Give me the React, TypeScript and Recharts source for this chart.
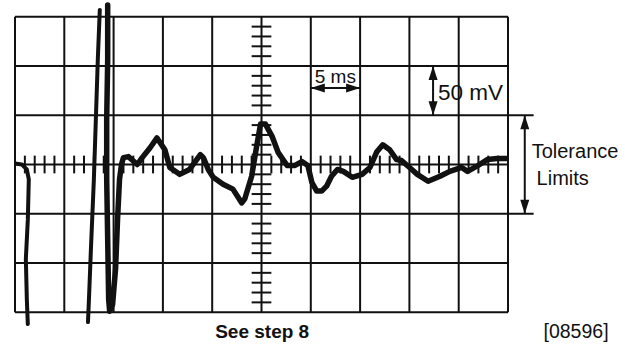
import { LineChart, Line, XAxis, YAxis, ReferenceLine, ReferenceDot } from "recharts";

// scope trace, t in ms (5 ms/div), v in mV (50 mV/div)
const sweepDrop = [
  { t: 0, v: 1 },
  { t: 0.7, v: 0 },
  { t: 1.2, v: -5 },
  { t: 1.4, v: -15 },
  { t: 1.3, v: -56 },
  { t: 1.1, v: -96 },
  { t: 1.2, v: -137 },
  { t: 1.3, v: -162 },
];

const sweepRise = [
  { t: 7.4, v: -160 },
  { t: 7.5, v: -137 },
  { t: 7.7, v: -86 },
  { t: 8.0, v: -15 },
  { t: 8.2, v: 46 },
  { t: 8.4, v: 107 },
  { t: 8.6, v: 157 },
];

const sweepMain = [
  { t: 9.4, v: 162 },
  { t: 9.4, v: 106 },
  { t: 9.3, v: 46 },
  { t: 9.3, v: -15 },
  { t: 9.4, v: -76 },
  { t: 9.5, v: -137 },
  { t: 9.6, v: -149 },
  { t: 9.9, v: -142 },
  { t: 10.2, v: -106 },
  { t: 10.4, v: -56 },
  { t: 10.6, v: -15 },
  { t: 10.8, v: 0 },
  { t: 11.0, v: 7 },
  { t: 11.5, v: 8 },
  { t: 12.4, v: 0 },
  { t: 12.9, v: 7 },
  { t: 13.7, v: 17 },
  { t: 14.4, v: 27 },
  { t: 15.2, v: 15 },
  { t: 15.7, v: -3 },
  { t: 16.7, v: -10 },
  { t: 17.7, v: -5 },
  { t: 18.8, v: 10 },
  { t: 19.1, v: 7 },
  { t: 19.6, v: -5 },
  { t: 20.1, v: -13 },
  { t: 21.1, v: -20 },
  { t: 22.1, v: -25 },
  { t: 23.0, v: -39 },
  { t: 23.3, v: -35 },
  { t: 24.0, v: -12 },
  { t: 24.5, v: 18 },
  { t: 24.9, v: 41 },
  { t: 25.4, v: 41 },
  { t: 26.1, v: 28 },
  { t: 26.7, v: 12 },
  { t: 27.6, v: -1 },
  { t: 28.4, v: -1 },
  { t: 29.1, v: 3 },
  { t: 29.7, v: -1 },
  { t: 30.1, v: -18 },
  { t: 30.6, v: -27 },
  { t: 31.1, v: -27 },
  { t: 31.6, v: -22 },
  { t: 32.1, v: -12 },
  { t: 32.7, v: -5 },
  { t: 33.3, v: -7 },
  { t: 34.2, v: -13 },
  { t: 35.2, v: -10 },
  { t: 36.0, v: -3 },
  { t: 36.7, v: 13 },
  { t: 37.3, v: 20 },
  { t: 38.0, v: 15 },
  { t: 38.7, v: 5 },
  { t: 39.2, v: 4 },
  { t: 39.9, v: -2 },
  { t: 40.8, v: -10 },
  { t: 41.9, v: -17 },
  { t: 43.1, v: -12 },
  { t: 44.1, v: -7 },
  { t: 45.3, v: -3 },
  { t: 45.9, v: -7 },
  { t: 46.8, v: -2 },
  { t: 47.9, v: 5 },
  { t: 48.9, v: 6 },
  { t: 50, v: 6 },
];

const majorTimes = [0, 5, 10, 15, 20, 25, 30, 35, 40, 45, 50];
const majorLevels = [-150, -100, -50, 0, 50, 100, 150];
const minorTimes = Array.from({ length: 51 }, (_, i) => i).filter((t) => t % 5 !== 0);
const minorLevels = Array.from({ length: 31 }, (_, i) => -150 + i * 10).filter((v) => v % 50 !== 0);

const toleranceLevels = [-50, 50];

const INK = "#111";
const FONT = "'Liberation Sans', Arial, sans-serif";

type Dir = "up" | "down" | "left" | "right";

const head = (dir: Dir) => (p: any) => {
  const { cx, cy } = p;
  const L = 14;
  const W = 4.5;
  let pts = "";
  if (dir === "up") pts = `${cx},${cy} ${cx - W},${cy + L} ${cx + W},${cy + L}`;
  if (dir === "down") pts = `${cx},${cy} ${cx - W},${cy - L} ${cx + W},${cy - L}`;
  if (dir === "left") pts = `${cx},${cy} ${cx + L},${cy - W} ${cx + L},${cy + W}`;
  if (dir === "right") pts = `${cx},${cy} ${cx - L},${cy - W} ${cx - L},${cy + W}`;
  return <polygon points={pts} fill={INK} />;
};

const label = (text: string, size: number, bold = false) => (p: any) => (
  <text x={p.cx} y={p.cy} fontSize={size} fontFamily={FONT} fontWeight={bold ? 700 : 400} fill={INK}>
    {text}
  </text>
);

export default function App() {
  return (
    <div style={{ position: "absolute", left: 0, top: 0, width: 625, height: 344, background: "#fff" }}>
      <LineChart width={625} height={344} margin={{ top: 2, right: 117, bottom: 17, left: 15 }}>
        <XAxis type="number" dataKey="t" domain={[0, 50]} allowDataOverflow hide />
        <YAxis type="number" dataKey="v" domain={[-165, 165]} allowDataOverflow hide />

        {majorTimes.map((t) => (
          <ReferenceLine key={`gx${t}`} segment={[{ x: t, y: -150 }, { x: t, y: 150 }]} stroke={INK} strokeWidth={2} ifOverflow="visible" />
        ))}
        {majorLevels.map((v) => (
          <ReferenceLine key={`gy${v}`} segment={[{ x: 0, y: v }, { x: 50, y: v }]} stroke={INK} strokeWidth={2} ifOverflow="visible" />
        ))}
        {minorTimes.map((t) => (
          <ReferenceLine key={`mx${t}`} segment={[{ x: t, y: -9 }, { x: t, y: 9 }]} stroke={INK} strokeWidth={2} ifOverflow="visible" />
        ))}
        {minorLevels.map((v) => (
          <ReferenceLine key={`my${v}`} segment={[{ x: 24, y: v }, { x: 26, y: v }]} stroke={INK} strokeWidth={2} ifOverflow="visible" />
        ))}

        <Line data={sweepDrop} dataKey="v" type="linear" stroke={INK} strokeWidth={4} dot={false} strokeLinejoin="round" strokeLinecap="round" isAnimationActive={false} />
        <Line data={sweepRise} dataKey="v" type="linear" stroke={INK} strokeWidth={4} dot={false} strokeLinejoin="round" strokeLinecap="round" isAnimationActive={false} />
        <Line data={sweepMain} dataKey="v" type="linear" stroke={INK} strokeWidth={5.5} dot={false} strokeLinejoin="round" strokeLinecap="round" isAnimationActive={false} />

        {/* 5 ms span */}
        <ReferenceLine segment={[{ x: 30, y: 77.7 }, { x: 35, y: 77.7 }]} stroke={INK} strokeWidth={2} ifOverflow="visible" />
        <ReferenceDot x={30} y={77.7} ifOverflow="visible" shape={head("left")} />
        <ReferenceDot x={35} y={77.7} ifOverflow="visible" shape={head("right")} />
        <ReferenceDot x={30.4} y={83} ifOverflow="visible" shape={label("5 ms", 19)} />

        {/* 50 mV span */}
        <ReferenceLine segment={[{ x: 42.4, y: 50 }, { x: 42.4, y: 100 }]} stroke={INK} strokeWidth={2} ifOverflow="visible" />
        <ReferenceDot x={42.4} y={100} ifOverflow="visible" shape={head("up")} />
        <ReferenceDot x={42.4} y={50} ifOverflow="visible" shape={head("down")} />
        <ReferenceDot x={42.9} y={66} ifOverflow="visible" shape={label("50 mV", 22.5)} />

        {/* tolerance limits */}
        {toleranceLevels.map((v) => (
          <ReferenceLine key={`tol${v}`} segment={[{ x: 50, y: v }, { x: 52.6, y: v }]} stroke={INK} strokeWidth={2} ifOverflow="visible" />
        ))}
        <ReferenceLine segment={[{ x: 51.7, y: -50 }, { x: 51.7, y: 50 }]} stroke={INK} strokeWidth={2} ifOverflow="visible" />
        <ReferenceDot x={51.7} y={50} ifOverflow="visible" shape={head("up")} />
        <ReferenceDot x={51.7} y={-50} ifOverflow="visible" shape={head("down")} />
        <ReferenceDot x={52.4} y={6.6} ifOverflow="visible" shape={label("Tolerance", 20)} />
        <ReferenceDot x={52.9} y={-20.8} ifOverflow="visible" shape={label("Limits", 20)} />

        <ReferenceDot x={20.3} y={-176} ifOverflow="visible" shape={label("See step 8", 19, true)} />
        <ReferenceDot x={53.6} y={-176} ifOverflow="visible" shape={label("[08596]", 19.5)} />
      </LineChart>
    </div>
  );
}
